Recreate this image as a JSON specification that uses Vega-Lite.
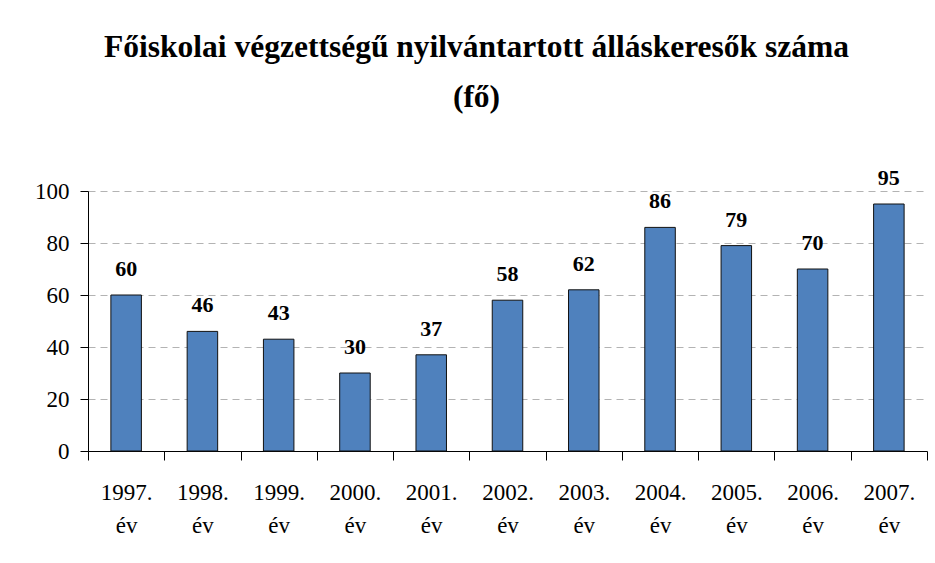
{
  "$schema": "https://vega.github.io/schema/vega-lite/v6.json",
  "width": 839,
  "height": 260,
  "autosize": {"type": "none"},
  "padding": {"left": 88, "top": 191, "right": 8, "bottom": 112},
  "background": "white",
  "title": {
    "text": ["Főiskolai végzettségű nyilvántartott álláskeresők száma", "(fő)"],
    "font": "Liberation Serif",
    "fontSize": 31.5,
    "fontWeight": "bold",
    "color": "black",
    "lineHeight": 50,
    "anchor": "middle",
    "frame": "group",
    "dx": -31,
    "offset": 54
  },
  "data": {
    "values": [
      {"ev": "1997. év", "value": 60},
      {"ev": "1998. év", "value": 46},
      {"ev": "1999. év", "value": 43},
      {"ev": "2000. év", "value": 30},
      {"ev": "2001. év", "value": 37},
      {"ev": "2002. év", "value": 58},
      {"ev": "2003. év", "value": 62},
      {"ev": "2004. év", "value": 86},
      {"ev": "2005. év", "value": 79},
      {"ev": "2006. év", "value": 70},
      {"ev": "2007. év", "value": 95}
    ]
  },
  "encoding": {
    "x": {
      "field": "ev",
      "type": "nominal",
      "sort": null,
      "scale": {"paddingInner": 0, "paddingOuter": 0},
      "axis": {
        "title": null,
        "tickBand": "extent",
        "tickSize": 9,
        "tickColor": "black",
        "domainColor": "black",
        "labelAngle": 0,
        "labelPadding": 21,
        "labelFont": "Liberation Serif",
        "labelFontSize": 23,
        "labelColor": "black",
        "labelLineHeight": 33,
        "labelExpr": "split(datum.label, ' ')",
        "grid": false
      }
    },
    "y": {
      "field": "value",
      "type": "quantitative",
      "scale": {"domain": [0, 100]},
      "axis": {
        "title": null,
        "values": [0, 20, 40, 60, 80, 100],
        "tickSize": 8,
        "tickColor": "black",
        "domainColor": "black",
        "labelPadding": 11,
        "labelFont": "Liberation Serif",
        "labelFontSize": 23,
        "labelColor": "black",
        "grid": true,
        "gridColor": "#b3b3b3",
        "gridDash": [7, 5]
      }
    }
  },
  "layer": [
    {
      "mark": {"type": "bar", "width": {"band": 0.4}, "fill": "#4F81BD", "stroke": "#111111", "strokeWidth": 1}
    },
    {
      "mark": {"type": "text", "dy": -19, "baseline": "alphabetic", "font": "Liberation Serif", "fontWeight": "bold", "fontSize": 22, "color": "black"},
      "encoding": {"text": {"field": "value", "type": "quantitative"}}
    }
  ],
  "config": {"view": {"stroke": null}, "font": "Liberation Serif"}
}
